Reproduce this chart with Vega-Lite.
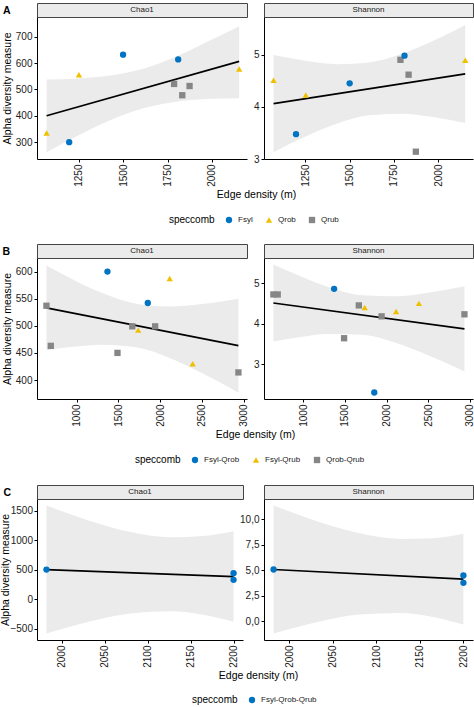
{
  "$schema": "https://vega.github.io/schema/vega-lite/v6.json",
  "background": "white",
  "padding": {"left": 0, "top": 2, "right": 0, "bottom": 0},
  "columns": 3,
  "spacing": 0,
  "bounds": "flush",
  "align": "each",
  "resolve": {
    "scale": {"color": "independent", "shape": "independent", "x": "independent", "y": "independent"},
    "legend": {"color": "independent", "shape": "independent"}
  },
  "config": {
    "font": "Liberation Sans",
    "view": {"stroke": null},
    "axis": {"grid": false, "labelOverlap": false, "tickCount": 10, "domainColor": "black", "domainWidth": 1, "tickColor": "black", "tickSize": 3, "tickWidth": 1, "labelFontSize": 10, "labelColor": "#222222", "labelPadding": 2, "titleFontSize": 10.5, "titleFontWeight": "normal", "titleColor": "black", "titlePadding": 3},
    "axisX": {"labelAngle": -90, "labelAlign": "right", "labelBaseline": "middle"},
    "legend": {"orient": "none", "direction": "horizontal", "titleOrient": "left", "titleFontSize": 10, "titleFontWeight": "normal", "titleColor": "black", "labelFontSize": 8, "labelColor": "#222222", "symbolSize": 40, "columnPadding": 12, "titlePadding": 10, "labelOffset": 5}
  },
  "datasets": {
    "ptsA": [
      {"x": 1070, "chao1": 335, "shannon": 4.51, "sp": "Qrob"},
      {"x": 1197, "chao1": 300, "shannon": 3.475, "sp": "Fsyl"},
      {"x": 1252, "chao1": 556, "shannon": 4.225, "sp": "Qrob"},
      {"x": 1500, "chao1": 632, "shannon": 4.45, "sp": "Fsyl"},
      {"x": 1787, "chao1": 521, "shannon": 4.90, "sp": "Qrub"},
      {"x": 1810, "chao1": 614, "shannon": 4.98, "sp": "Fsyl"},
      {"x": 1833, "chao1": 478, "shannon": 4.615, "sp": "Qrub"},
      {"x": 1874, "chao1": 513, "shannon": 3.14, "sp": "Qrub"},
      {"x": 2153, "chao1": 578, "shannon": 4.89, "sp": "Qrob"}
    ],
    "lineA": [
      {"x": 1070, "c": 400, "s": 4.06},
      {"x": 2153, "c": 606.5, "s": 4.63}
    ],
    "bandA": [
      {"x": 1070, "c_lo": 262, "c_hi": 538, "s_lo": 3.13, "s_hi": 4.99},
      {"x": 1250, "c_lo": 326.6, "c_hi": 542, "s_lo": 3.43, "s_hi": 4.88},
      {"x": 1430, "c_lo": 384.3, "c_hi": 552.9, "s_lo": 3.682, "s_hi": 4.816},
      {"x": 1608, "c_lo": 427.6, "c_hi": 577.6, "s_lo": 3.838, "s_hi": 4.848},
      {"x": 1790, "c_lo": 452.7, "c_hi": 621.9, "s_lo": 3.869, "s_hi": 5.009},
      {"x": 1970, "c_lo": 463.3, "c_hi": 679.9, "s_lo": 3.804, "s_hi": 5.262},
      {"x": 2153, "c_lo": 467, "c_hi": 740, "s_lo": 3.691, "s_hi": 5.569}
    ],
    "ptsB": [
      {"x": 640, "chao1": 537, "shannon": 4.72, "sp": "Qrob-Qrub"},
      {"x": 692, "chao1": 463, "shannon": 4.72, "sp": "Qrob-Qrub"},
      {"x": 1370, "chao1": 600, "shannon": 4.86, "sp": "Fsyl-Qrob"},
      {"x": 1490, "chao1": 450, "shannon": 3.64, "sp": "Qrob-Qrub"},
      {"x": 1667, "chao1": 499, "shannon": 4.45, "sp": "Qrob-Qrub"},
      {"x": 1738, "chao1": 492, "shannon": 4.40, "sp": "Fsyl-Qrub"},
      {"x": 1853, "chao1": 542, "shannon": 2.30, "sp": "Fsyl-Qrob"},
      {"x": 1941, "chao1": 499, "shannon": 4.18, "sp": "Qrob-Qrub"},
      {"x": 2115, "chao1": 587, "shannon": 4.30, "sp": "Fsyl-Qrub"},
      {"x": 2390, "chao1": 430, "shannon": 4.50, "sp": "Fsyl-Qrub"},
      {"x": 2937, "chao1": 414, "shannon": 4.23, "sp": "Qrob-Qrub"}
    ],
    "lineB": [
      {"x": 640, "c": 533, "s": 4.51},
      {"x": 2937, "c": 463.3, "s": 3.87}
    ],
    "bandB": [
      {"x": 640, "c_lo": 454.8, "c_hi": 611.2, "s_lo": 3.561, "s_hi": 5.459},
      {"x": 950, "c_lo": 461.2, "c_hi": 586.0, "s_lo": 3.667, "s_hi": 5.181},
      {"x": 1300, "c_lo": 465.2, "c_hi": 560.8, "s_lo": 3.746, "s_hi": 4.906},
      {"x": 1712, "c_lo": 460.2, "c_hi": 540.8, "s_lo": 3.723, "s_hi": 4.699},
      {"x": 2100, "c_lo": 441.7, "c_hi": 535.7, "s_lo": 3.533, "s_hi": 4.673},
      {"x": 2500, "c_lo": 413.0, "c_hi": 540.2, "s_lo": 3.220, "s_hi": 4.764},
      {"x": 2937, "c_lo": 376.7, "c_hi": 549.9, "s_lo": 2.82, "s_hi": 4.92}
    ],
    "ptsC": [
      {"x": 1982, "chao1": 505, "shannon": 5.08, "sp": "Fsyl-Qrob-Qrub"},
      {"x": 2200, "chao1": 443, "shannon": 4.49, "sp": "Fsyl-Qrob-Qrub"},
      {"x": 2200, "chao1": 331, "shannon": 3.77, "sp": "Fsyl-Qrob-Qrub"}
    ],
    "lineC": [
      {"x": 1982, "c": 505, "s": 5.08},
      {"x": 2200, "c": 387, "s": 4.13}
    ],
    "bandC": [
      {"x": 1982, "c_lo": -580, "c_hi": 1590, "s_lo": -1.21, "s_hi": 11.37},
      {"x": 2030, "c_lo": -384, "c_hi": 1342, "s_lo": -0.13, "s_hi": 9.871},
      {"x": 2080, "c_lo": -238, "c_hi": 1142, "s_lo": 0.653, "s_hi": 8.653},
      {"x": 2127, "c_lo": -199.5, "c_hi": 1052.5, "s_lo": 0.816, "s_hi": 8.08},
      {"x": 2165, "c_lo": -261, "c_hi": 1073, "s_lo": 0.415, "s_hi": 8.151},
      {"x": 2200, "c_lo": -380, "c_hi": 1154, "s_lo": -0.318, "s_hi": 8.578}
    ],
    "none": []
  },
  "concat": [
    {"width": 210, "height": 14, "data": {"values": [{"t": "Chao1", "lab": "A"}]}, "view": {"fill": "#EBEBEB", "stroke": "#444444", "strokeWidth": 1}, "mark": {"type": "text", "fontSize": 8, "color": "#1a1a1a"},
     "encoding": {"text": {"field": "t"}, "y": {"field": "lab", "type": "nominal", "axis": {"title": null, "domain": false, "ticks": false, "labelPadding": 27, "labelFontSize": 10.5, "labelFontWeight": "bold", "labelColor": "black"}}}},
    {"width": 17, "height": 1, "data": {"name": "none"}, "mark": "point"},
    {"width": 209, "height": 14, "data": {"values": [{"t": "Shannon"}]}, "view": {"fill": "#EBEBEB", "stroke": "#444444", "strokeWidth": 1}, "mark": {"type": "text", "fontSize": 8, "color": "#1a1a1a"}, "encoding": {"text": {"field": "t"}}},

    {
      "width": 210, "height": 142,
      "layer": [
        {"data": {"name": "bandA"}, "mark": {"type": "area", "fill": "#EBEBEB", "interpolate": "monotone"},
         "encoding": {
           "x": {"field": "x", "type": "quantitative", "scale": {"domain": [1016, 2197], "nice": false, "zero": false}, "axis": {"values": [1250, 1500, 1750, 2000], "tickCount": 10, "format": "d", "labelOverlap": false, "title": "Edge density (m)", "titleX": 219}},
           "y": {"field": "c_lo", "type": "quantitative", "scale": {"domain": [236, 775], "nice": false, "zero": false}, "axis": {"values": [300, 400, 500, 600, 700], "tickCount": 10, "format": "d", "labelOverlap": false, "title": "Alpha diversity measure", "titleX": -29.5, "titleBaseline": "middle"}},
           "y2": {"field": "c_hi"}}},
        {"data": {"name": "lineA"}, "mark": {"type": "line", "color": "black", "strokeWidth": 1.7},
         "encoding": {"x": {"field": "x", "type": "quantitative"}, "y": {"field": "c", "type": "quantitative"}}},
        {"data": {"name": "ptsA"}, "mark": {"type": "point", "filled": true, "opacity": 1, "size": 40},
         "encoding": {"x": {"field": "x", "type": "quantitative"}, "y": {"field": "chao1", "type": "quantitative"},
           "color": {"field": "sp", "type": "nominal", "title": "speccomb", "scale": {"domain": ["Fsyl", "Qrob", "Qrub"], "range": ["#0073C2", "#EFC000", "#868686"]}, "legend": {"legendX": 132, "legendY": 199}},
           "shape": {"field": "sp", "type": "nominal", "title": "speccomb", "scale": {"domain": ["Fsyl", "Qrob", "Qrub"], "range": ["circle", "triangle-up", "square"]}, "legend": {"legendX": 132, "legendY": 199}}}}
      ]
    },
    {"width": 17, "height": 1, "data": {"name": "none"}, "mark": "point"},
    {
      "width": 209, "height": 142,
      "layer": [
        {"data": {"name": "bandA"}, "mark": {"type": "area", "fill": "#EBEBEB", "interpolate": "monotone"},
         "encoding": {
           "x": {"field": "x", "type": "quantitative", "scale": {"domain": [1016, 2197], "nice": false, "zero": false}, "axis": {"values": [1250, 1500, 1750, 2000], "tickCount": 10, "format": "d", "labelOverlap": false, "title": null}},
           "y": {"field": "s_lo", "type": "quantitative", "scale": {"domain": [3.0, 5.72], "nice": false, "zero": false}, "axis": {"values": [3, 4, 5], "tickCount": 10, "format": "d", "labelOverlap": false, "title": null}},
           "y2": {"field": "s_hi"}}},
        {"data": {"name": "lineA"}, "mark": {"type": "line", "color": "black", "strokeWidth": 1.7},
         "encoding": {"x": {"field": "x", "type": "quantitative"}, "y": {"field": "s", "type": "quantitative"}}},
        {"data": {"name": "ptsA"}, "mark": {"type": "point", "filled": true, "opacity": 1, "size": 40},
         "encoding": {"x": {"field": "x", "type": "quantitative"}, "y": {"field": "shannon", "type": "quantitative"},
           "color": {"field": "sp", "type": "nominal", "scale": {"domain": ["Fsyl", "Qrob", "Qrub"], "range": ["#0073C2", "#EFC000", "#868686"]}, "legend": null},
           "shape": {"field": "sp", "type": "nominal", "scale": {"domain": ["Fsyl", "Qrob", "Qrub"], "range": ["circle", "triangle-up", "square"]}, "legend": null}}}
      ]
    },

    {"width": 1, "height": 85, "data": {"name": "none"}, "mark": "point"},
    {"width": 1, "height": 1, "data": {"name": "none"}, "mark": "point"},
    {"width": 1, "height": 1, "data": {"name": "none"}, "mark": "point"},

    {"width": 210, "height": 14, "data": {"values": [{"t": "Chao1", "lab": "B"}]}, "view": {"fill": "#EBEBEB", "stroke": "#444444", "strokeWidth": 1}, "mark": {"type": "text", "fontSize": 8, "color": "#1a1a1a"},
     "encoding": {"text": {"field": "t"}, "y": {"field": "lab", "type": "nominal", "axis": {"title": null, "domain": false, "ticks": false, "labelPadding": 27.5, "labelFontSize": 10.5, "labelFontWeight": "bold", "labelColor": "black"}}}},
    {"width": 17, "height": 1, "data": {"name": "none"}, "mark": "point"},
    {"width": 209, "height": 14, "data": {"values": [{"t": "Shannon"}]}, "view": {"fill": "#EBEBEB", "stroke": "#444444", "strokeWidth": 1}, "mark": {"type": "text", "fontSize": 8, "color": "#1a1a1a"}, "encoding": {"text": {"field": "t"}}},

    {
      "width": 210, "height": 141,
      "layer": [
        {"data": {"name": "bandB"}, "mark": {"type": "area", "fill": "#EBEBEB", "interpolate": "monotone"},
         "encoding": {
           "x": {"field": "x", "type": "quantitative", "scale": {"domain": [527, 3040], "nice": false, "zero": false}, "axis": {"values": [1000, 1500, 2000, 2500, 3000], "tickCount": 10, "format": "d", "labelOverlap": false, "title": "Edge density (m)", "titleX": 218}},
           "y": {"field": "c_lo", "type": "quantitative", "scale": {"domain": [365, 625], "nice": false, "zero": false}, "axis": {"values": [400, 450, 500, 550, 600], "tickCount": 10, "format": "d", "labelOverlap": false, "title": "Alpha diversity measure", "titleX": -29.5, "titleBaseline": "middle"}},
           "y2": {"field": "c_hi"}}},
        {"data": {"name": "lineB"}, "mark": {"type": "line", "color": "black", "strokeWidth": 1.7},
         "encoding": {"x": {"field": "x", "type": "quantitative"}, "y": {"field": "c", "type": "quantitative"}}},
        {"data": {"name": "ptsB"}, "mark": {"type": "point", "filled": true, "opacity": 1, "size": 40},
         "encoding": {"x": {"field": "x", "type": "quantitative"}, "y": {"field": "chao1", "type": "quantitative"},
           "color": {"field": "sp", "type": "nominal", "title": "speccomb", "scale": {"domain": ["Fsyl-Qrob", "Fsyl-Qrub", "Qrob-Qrub"], "range": ["#0073C2", "#EFC000", "#868686"]}, "legend": {"legendX": 98, "legendY": 198}},
           "shape": {"field": "sp", "type": "nominal", "title": "speccomb", "scale": {"domain": ["Fsyl-Qrob", "Fsyl-Qrub", "Qrob-Qrub"], "range": ["circle", "triangle-up", "square"]}, "legend": {"legendX": 98, "legendY": 198}}}}
      ]
    },
    {"width": 17, "height": 1, "data": {"name": "none"}, "mark": "point"},
    {
      "width": 209, "height": 141,
      "layer": [
        {"data": {"name": "bandB"}, "mark": {"type": "area", "fill": "#EBEBEB", "interpolate": "monotone"},
         "encoding": {
           "x": {"field": "x", "type": "quantitative", "scale": {"domain": [527, 3040], "nice": false, "zero": false}, "axis": {"values": [1000, 1500, 2000, 2500, 3000], "tickCount": 10, "format": "d", "labelOverlap": false, "title": null}},
           "y": {"field": "s_lo", "type": "quantitative", "scale": {"domain": [2.14, 5.62], "nice": false, "zero": false}, "axis": {"values": [3, 4, 5], "tickCount": 10, "format": "d", "labelOverlap": false, "title": null}},
           "y2": {"field": "s_hi"}}},
        {"data": {"name": "lineB"}, "mark": {"type": "line", "color": "black", "strokeWidth": 1.7},
         "encoding": {"x": {"field": "x", "type": "quantitative"}, "y": {"field": "s", "type": "quantitative"}}},
        {"data": {"name": "ptsB"}, "mark": {"type": "point", "filled": true, "opacity": 1, "size": 40},
         "encoding": {"x": {"field": "x", "type": "quantitative"}, "y": {"field": "shannon", "type": "quantitative"},
           "color": {"field": "sp", "type": "nominal", "scale": {"domain": ["Fsyl-Qrob", "Fsyl-Qrub", "Qrob-Qrub"], "range": ["#0073C2", "#EFC000", "#868686"]}, "legend": null},
           "shape": {"field": "sp", "type": "nominal", "scale": {"domain": ["Fsyl-Qrob", "Fsyl-Qrub", "Qrob-Qrub"], "range": ["circle", "triangle-up", "square"]}, "legend": null}}}
      ]
    },

    {"width": 1, "height": 86, "data": {"name": "none"}, "mark": "point"},
    {"width": 1, "height": 1, "data": {"name": "none"}, "mark": "point"},
    {"width": 1, "height": 1, "data": {"name": "none"}, "mark": "point"},

    {"width": 206, "height": 14, "data": {"values": [{"t": "Chao1", "lab": "C"}]}, "view": {"fill": "#EBEBEB", "stroke": "#444444", "strokeWidth": 1}, "mark": {"type": "text", "fontSize": 8, "color": "#1a1a1a"},
     "encoding": {"text": {"field": "t"}, "y": {"field": "lab", "type": "nominal", "axis": {"title": null, "domain": false, "ticks": false, "labelPadding": 26.5, "labelFontSize": 10.5, "labelFontWeight": "bold", "labelColor": "black"}}}},
    {"width": 17, "height": 1, "data": {"name": "none"}, "mark": "point"},
    {"width": 209, "height": 14, "data": {"values": [{"t": "Shannon"}]}, "view": {"fill": "#EBEBEB", "stroke": "#444444", "strokeWidth": 1}, "mark": {"type": "text", "fontSize": 8, "color": "#1a1a1a"}, "encoding": {"text": {"field": "t"}}},

    {
      "width": 206, "height": 141,
      "layer": [
        {"data": {"name": "bandC"}, "mark": {"type": "area", "fill": "#EBEBEB", "interpolate": "monotone"},
         "encoding": {
           "x": {"field": "x", "type": "quantitative", "scale": {"domain": [1971, 2211], "nice": false, "zero": false}, "axis": {"values": [2000, 2050, 2100, 2150, 2200], "tickCount": 10, "format": "d", "labelOverlap": false, "title": "Edge density (m)", "titleX": 221}},
           "y": {"field": "c_lo", "type": "quantitative", "scale": {"domain": [-688, 1700], "nice": false, "zero": false}, "axis": {"values": [-500, 0, 500, 1000, 1500], "tickCount": 10, "format": "d", "labelOverlap": false, "labelPadding": 1.5, "title": "Alpha diversity measure", "titleX": -31.5, "titleBaseline": "middle"}},
           "y2": {"field": "c_hi"}}},
        {"data": {"name": "lineC"}, "mark": {"type": "line", "color": "black", "strokeWidth": 1.7},
         "encoding": {"x": {"field": "x", "type": "quantitative"}, "y": {"field": "c", "type": "quantitative"}}},
        {"data": {"name": "ptsC"}, "mark": {"type": "point", "filled": true, "opacity": 1, "size": 40},
         "encoding": {"x": {"field": "x", "type": "quantitative"}, "y": {"field": "chao1", "type": "quantitative"},
           "color": {"field": "sp", "type": "nominal", "title": "speccomb", "scale": {"domain": ["Fsyl-Qrob-Qrub"], "range": ["#0073C2"]}, "legend": {"legendX": 155, "legendY": 197}},
           "shape": {"field": "sp", "type": "nominal", "title": "speccomb", "scale": {"domain": ["Fsyl-Qrob-Qrub"], "range": ["circle"]}, "legend": {"legendX": 155, "legendY": 197}}}}
      ]
    },
    {"width": 17, "height": 1, "data": {"name": "none"}, "mark": "point"},
    {
      "width": 209, "height": 141,
      "layer": [
        {"data": {"name": "bandC"}, "mark": {"type": "area", "fill": "#EBEBEB", "interpolate": "monotone"},
         "encoding": {
           "x": {"field": "x", "type": "quantitative", "scale": {"domain": [1971, 2211], "nice": false, "zero": false}, "axis": {"values": [2000, 2050, 2100, 2150, 2200], "tickCount": 10, "format": "d", "labelOverlap": false, "title": null}},
           "y": {"field": "s_lo", "type": "quantitative", "scale": {"domain": [-1.84, 12.0], "nice": false, "zero": false}, "axis": {"values": [0, 2.5, 5, 7.5, 10], "tickCount": 10, "labelOverlap": false, "title": null, "labelExpr": "replace(format(datum.value, '.1f'), '.', ',')"}},
           "y2": {"field": "s_hi"}}},
        {"data": {"name": "lineC"}, "mark": {"type": "line", "color": "black", "strokeWidth": 1.7},
         "encoding": {"x": {"field": "x", "type": "quantitative"}, "y": {"field": "s", "type": "quantitative"}}},
        {"data": {"name": "ptsC"}, "mark": {"type": "point", "filled": true, "opacity": 1, "size": 40},
         "encoding": {"x": {"field": "x", "type": "quantitative"}, "y": {"field": "shannon", "type": "quantitative"},
           "color": {"field": "sp", "type": "nominal", "scale": {"domain": ["Fsyl-Qrob-Qrub"], "range": ["#0073C2"]}, "legend": null},
           "shape": {"field": "sp", "type": "nominal", "scale": {"domain": ["Fsyl-Qrob-Qrub"], "range": ["circle"]}, "legend": null}}}
      ]
    }
  ]
}
